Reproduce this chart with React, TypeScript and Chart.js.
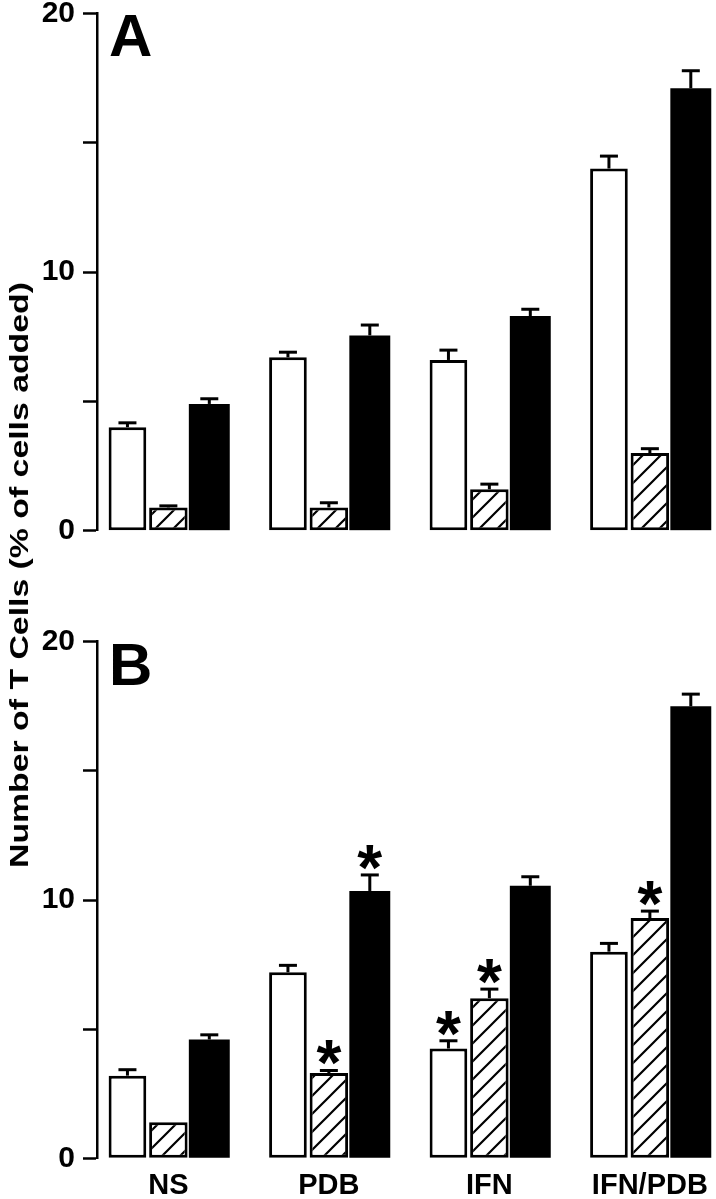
import React, { useEffect, useRef } from 'react';
import { Chart, registerables } from 'chart.js';

Chart.register(...registerables);

const FONT = '"Liberation Sans", Arial, Helvetica, sans-serif';

const categories = ['NS', 'PDB', 'IFN', 'IFN/PDB'];
const categoryPositions = [0, 1, 2, 3];
const yTickValues = [0, 5, 10, 15, 20];
const yLabelValues = [0, 10, 20];
const yTitle = 'Number of T Cells (% of cells added)';

// Panel A
const aWhite = [4.0, 6.7, 6.6, 14.0];
const aWhiteErr = [0.17, 0.2, 0.38, 0.48];
const aHatched = [0.9, 0.9, 1.6, 3.0];
const aHatchedErr = [0.06, 0.18, 0.2, 0.17];
const aBlack = [4.9, 7.55, 8.3, 17.1];
const aBlackErr = [0.2, 0.4, 0.26, 0.68];
const aStarsNone = [false, false, false, false];

// Panel B
const bWhite = [3.2, 7.2, 4.25, 8.0];
const bWhiteErr = [0.23, 0.27, 0.3, 0.32];
const bHatched = [1.4, 3.3, 6.2, 9.3];
const bHatchedErr = [0, 0.1, 0.35, 0.27];
const bBlack = [4.6, 10.35, 10.55, 17.5];
const bBlackErr = [0.18, 0.62, 0.35, 0.47];
const bWhiteStars = [false, false, true, false];
const bHatchedStars = [false, true, true, true];
const bBlackStars = [false, true, false, false];

function makeHatch(): CanvasPattern | string {
  const s = 18;
  const c = document.createElement('canvas');
  c.width = s;
  c.height = s;
  const g = c.getContext('2d');
  if (!g) return '#fff';
  g.fillStyle = '#fff';
  g.fillRect(0, 0, s, s);
  g.strokeStyle = '#000';
  g.lineWidth = 2.2;
  g.beginPath();
  g.moveTo(-2, s + 2);
  g.lineTo(s + 2, -2);
  g.moveTo(-4, 4);
  g.lineTo(4, -4);
  g.moveTo(s - 4, s + 4);
  g.lineTo(s + 4, s - 4);
  g.stroke();
  return g.createPattern(c, 'repeat') || '#fff';
}

const errorBarPlugin = {
  id: 'errorBars',
  afterDatasetsDraw(chart: any) {
    const ctx = chart.ctx;
    const yScale = chart.scales.y;
    chart.data.datasets.forEach((ds: any, di: number) => {
      const meta = chart.getDatasetMeta(di);
      meta.data.forEach((bar: any, i: number) => {
        const v = ds.data[i].y;
        const e = ds.errors[i];
        const x = bar.x;
        const top = yScale.getPixelForValue(v + e);
        ctx.save();
        ctx.strokeStyle = '#000';
        ctx.lineWidth = 3;
        if (e > 0) {
          ctx.beginPath();
          ctx.moveTo(x, bar.y);
          ctx.lineTo(x, top);
          ctx.stroke();
          ctx.beginPath();
          ctx.moveTo(x - 9, top);
          ctx.lineTo(x + 9, top);
          ctx.stroke();
        }
        if (ds.stars && ds.stars[i]) {
          ctx.fillStyle = '#000';
          ctx.font = 'bold 64px ' + FONT;
          ctx.textAlign = 'center';
          ctx.textBaseline = 'alphabetic';
          const m = ctx.measureText('*');
          const bottom = top - 5;
          const baseline = bottom - m.actualBoundingBoxDescent;
          ctx.fillText('*', x, baseline);
        }
        ctx.restore();
      });
    });
  },
};

function letterPlugin(letter: string) {
  return {
    id: 'panelLetter',
    afterDraw(chart: any) {
      const { ctx, chartArea } = chart;
      ctx.save();
      ctx.fillStyle = '#000';
      ctx.font = 'bold 60px ' + FONT;
      ctx.textAlign = 'left';
      ctx.textBaseline = 'alphabetic';
      ctx.fillText(letter, chartArea.left + 12, chartArea.top + 43);
      ctx.restore();
    },
  };
}

function pts(vals: number[]) {
  return vals.map((v, i) => ({ x: categoryPositions[i], y: v }));
}

function makeDatasets(
  white: number[], whiteErr: number[], whiteStars: boolean[],
  hatched: number[], hatchedErr: number[], hatchedStars: boolean[],
  black: number[], blackErr: number[], blackStars: boolean[],
) {
  const hatch = makeHatch();
  const common = { categoryPercentage: 0.765, borderSkipped: false as const };
  return [
    {
      label: 'open', data: pts(white), errors: whiteErr, stars: whiteStars,
      backgroundColor: '#fff', borderColor: '#000', borderWidth: 3, barPercentage: 0.92, ...common,
    },
    {
      label: 'hatched', data: pts(hatched), errors: hatchedErr, stars: hatchedStars,
      backgroundColor: hatch, borderColor: '#000', borderWidth: 3, barPercentage: 0.94, ...common,
    },
    {
      label: 'solid', data: pts(black), errors: blackErr, stars: blackStars,
      backgroundColor: '#000', borderColor: '#000', borderWidth: 0, barPercentage: 1.0, ...common,
    },
  ];
}

function makeOptions(showX: boolean, padTop: number, padBottom: number) {
  return {
    responsive: false,
    animation: false as const,
    events: [] as any[],
    layout: { padding: { top: padTop, bottom: padBottom, left: 0, right: 0 } },
    plugins: { legend: { display: false }, tooltip: { enabled: false }, title: { display: false } },
    scales: {
      x: {
        type: 'linear' as const,
        min: -0.4447,
        max: 3.412,
        offset: false,
        display: showX,
        grid: { display: false, drawTicks: false },
        border: { display: false },
        afterBuildTicks: (s: any) => {
          s.ticks = categoryPositions.map((v) => ({ value: v }));
        },
        afterFit: (s: any) => {
          s.paddingLeft = 0;
          s.paddingRight = 0;
          if (showX) s.height = 40.7;
        },
        ticks: {
          autoSkip: false,
          maxRotation: 0,
          minRotation: 0,
          padding: 10,
          color: '#000',
          font: { family: FONT, weight: 'bold' as const, size: 29 },
          callback: (v: any) => categories[categoryPositions.indexOf(Number(v))] ?? '',
        },
      },
      y: {
        type: 'linear' as const,
        min: 0,
        max: 20,
        afterBuildTicks: (s: any) => {
          s.ticks = yTickValues.map((v) => ({ value: v }));
        },
        afterFit: (s: any) => {
          s.width = 97;
          s.paddingTop = 0;
          s.paddingBottom = 0;
        },
        grid: {
          drawOnChartArea: false,
          drawTicks: true,
          tickLength: 14,
          tickWidth: 2.5,
          tickColor: '#000',
          color: '#000',
        },
        border: { display: true, color: '#000', width: 2.5 },
        ticks: {
          padding: 8,
          color: '#000',
          font: { family: FONT, weight: 'bold' as const, size: 30 },
          callback: (v: any) => (yLabelValues.includes(Number(v)) ? String(v) : ''),
        },
      },
    },
  };
}

export default function App() {
  const refA = useRef<HTMLCanvasElement | null>(null);
  const refB = useRef<HTMLCanvasElement | null>(null);

  useEffect(() => {
    if (!refA.current || !refB.current) return;
    const chartA = new Chart(refA.current, {
      type: 'bar',
      data: {
        datasets: makeDatasets(
          aWhite, aWhiteErr, aStarsNone,
          aHatched, aHatchedErr, aStarsNone,
          aBlack, aBlackErr, aStarsNone,
        ) as any,
      },
      options: makeOptions(false, 13.3, 29.3) as any,
      plugins: [errorBarPlugin, letterPlugin('A')],
    });
    const chartB = new Chart(refB.current, {
      type: 'bar',
      data: {
        datasets: makeDatasets(
          bWhite, bWhiteErr, bWhiteStars,
          bHatched, bHatchedErr, bHatchedStars,
          bBlack, bBlackErr, bBlackStars,
        ) as any,
      },
      options: makeOptions(true, 61.7, 0) as any,
      plugins: [errorBarPlugin, letterPlugin('B')],
    });
    return () => {
      chartA.destroy();
      chartB.destroy();
    };
  }, []);

  return (
    <div style={{ position: 'absolute', left: 0, top: 0, width: 716, height: 1199, background: '#fff', overflow: 'hidden' }}>
      <canvas ref={refA} width={716} height={560} style={{ position: 'absolute', left: 0, top: 0, width: 716, height: 560 }} />
      <canvas ref={refB} width={716} height={619} style={{ position: 'absolute', left: 0, top: 580, width: 716, height: 619 }} />
      <div
        style={{
          position: 'absolute',
          left: 19,
          top: 575,
          transform: 'translate(-50%, -50%) rotate(-90deg) scaleX(1.3)',
          whiteSpace: 'nowrap',
          font: 'bold 26px ' + FONT,
          color: '#000',
          lineHeight: '28px',
        }}
      >
        {yTitle}
      </div>
    </div>
  );
}
